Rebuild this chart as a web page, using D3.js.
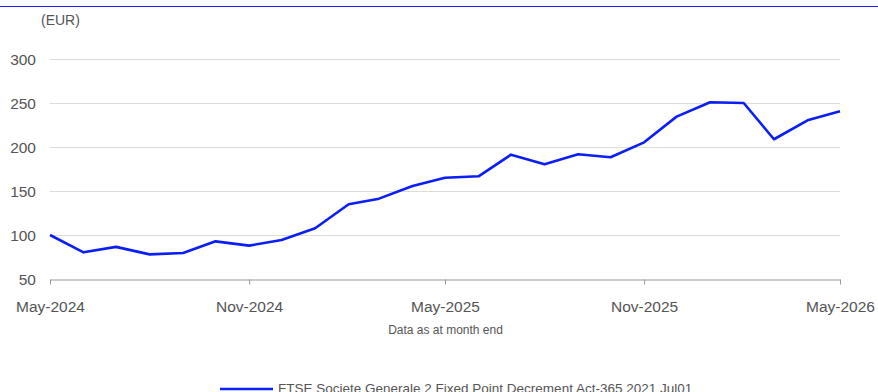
<!DOCTYPE html>
<html>
<head>
<meta charset="utf-8">
<script src="https://cdn.jsdelivr.net/npm/d3@7"></script>
<style>
  html, body { margin: 0; padding: 0; background: #fff; }
  svg { display: block; font-family: "Liberation Sans", Arial, sans-serif; }
</style>
</head>
<body>
<svg id="chart" width="878" height="392"></svg>
<script>
// Monthly index levels, May-2024 to May-2026
const months = [
  "2024-05","2024-06","2024-07","2024-08","2024-09","2024-10","2024-11","2024-12",
  "2025-01","2025-02","2025-03","2025-04","2025-05","2025-06","2025-07","2025-08",
  "2025-09","2025-10","2025-11","2025-12","2026-01","2026-02","2026-03","2026-04","2026-05"
];
const values = [
  100, 80.3, 86.5, 78, 79.5, 92.8, 87.9, 94.3,
  107.6, 134.9, 141.3, 155.7, 165.1, 166.7, 191.3, 180.3,
  191.7, 188.3, 205.3, 234.5, 250.8, 250, 208.8, 230.3, 240.6
];
const yTicks = [50, 100, 150, 200, 250, 300];
const xTickMonths = ["2024-05", "2024-11", "2025-05", "2025-11", "2026-05"];
const seriesName = "FTSE Societe Generale 2 Fixed Point Decrement Act-365 2021 Jul01";
const unitLabel = "(EUR)";
const footnote = "Data as at month end";

const parse = d3.timeParse("%Y-%m");
const fmt = d3.timeFormat("%b-%Y");
const data = months.map((m, i) => ({ date: parse(m), value: values[i] }));

const svg = d3.select("#chart");
const plot = { left: 50, right: 840, top: 59, bottom: 279 };

const x = d3.scaleTime()
  .domain(d3.extent(data, d => d.date))
  .range([plot.left, plot.right]);
const y = d3.scaleLinear()
  .domain([50, 300])
  .range([plot.bottom, plot.top]);

// top rule
svg.append("line")
  .attr("x1", 0).attr("x2", 878)
  .attr("y1", 6.5).attr("y2", 6.5)
  .attr("stroke", "#1a1aff").attr("stroke-width", 1);

// unit label
svg.append("text")
  .attr("x", 41).attr("y", 25)
  .attr("font-size", 14).attr("fill", "#555")
  .text(unitLabel);

// gridlines
svg.append("g")
  .selectAll("line")
  .data(yTicks.filter(t => t !== 50))
  .join("line")
  .attr("x1", plot.left).attr("x2", plot.right)
  .attr("y1", d => Math.round(y(d)) + 0.5).attr("y2", d => Math.round(y(d)) + 0.5)
  .attr("stroke", "#dcdcdc").attr("stroke-width", 1);

// y axis labels
svg.append("g")
  .selectAll("text")
  .data(yTicks)
  .join("text")
  .attr("x", 36)
  .attr("y", d => y(d) + 5.5)
  .attr("text-anchor", "end")
  .attr("font-size", 15.5)
  .attr("fill", "#555")
  .text(d => d);

// x axis
const xAxis = d3.axisBottom(x)
  .tickValues(xTickMonths.map(parse))
  .tickFormat(fmt)
  .tickSize(5)
  .tickSizeOuter(0);
const gx = svg.append("g")
  .attr("transform", `translate(0,${plot.bottom + 0.5})`)
  .call(xAxis);
gx.select(".domain").attr("stroke", "#999");
gx.selectAll(".tick line").attr("stroke", "#999");
gx.selectAll(".tick text")
  .attr("y", 32.5)
  .attr("dy", null)
  .attr("font-size", 15.5)
  .attr("fill", "#555")
  .attr("font-family", "Liberation Sans, Arial, sans-serif");

// series line
const line = d3.line()
  .x(d => x(d.date))
  .y(d => y(d.value));
svg.append("path")
  .datum(data)
  .attr("fill", "none")
  .attr("stroke", "#0a1ef5")
  .attr("stroke-width", 2.6)
  .attr("stroke-linejoin", "round")
  .attr("d", line);

// footnote
svg.append("text")
  .attr("x", 445.5).attr("y", 334)
  .attr("text-anchor", "middle")
  .attr("font-size", 12).attr("fill", "#555")
  .text(footnote);

// legend
const lg = svg.append("g").attr("transform", "translate(220,389)");
lg.append("line")
  .attr("x1", 0).attr("x2", 53)
  .attr("y1", 0).attr("y2", 0)
  .attr("stroke", "#0a1ef5").attr("stroke-width", 2.6);
lg.append("text")
  .attr("x", 58).attr("y", 4)
  .attr("font-size", 13.5).attr("fill", "#555")
  .text(seriesName);
</script>
</body>
</html>
